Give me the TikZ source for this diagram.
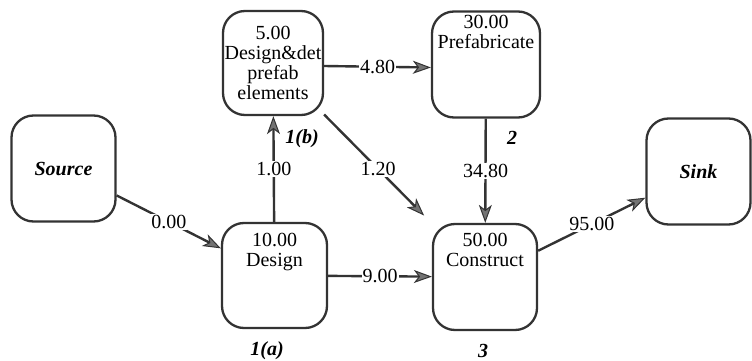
\documentclass[tikz,border=0pt]{standalone}
\usepackage{fontspec}
\setmainfont{Liberation Serif}
\usetikzlibrary{arrows.meta}

\tikzset{
  task/.style = {draw=black!80, line width=2.3pt, rounded corners=22pt,
                 minimum width=104pt, minimum height=106pt, inner sep=0pt},
  txt/.style  = {anchor=north, align=center, inner sep=0pt,
                 font=\fontsize{20}{20}\selectfont},
  tag/.style  = {inner sep=0pt, font=\fontsize{20}{20}\selectfont\bfseries\itshape},
  lnk/.style  = {draw=black!80, line width=2.4pt,
                 -{Stealth[length=18pt, width=13pt, inset=5pt, line width=1pt, fill=black!55]}},
  val/.style  = {fill=white, inner sep=1pt, font=\fontsize{20}{20}\selectfont},
}

\begin{document}
\begin{tikzpicture}[x=1pt, y=-1pt]
  \useasboundingbox (0,0) rectangle (752,361);

  % activities
  \node[task] (source) at (63.5,168.5) {};
  \node[task, minimum width=100pt, minimum height=104pt] (detail) at (273,63) {};
  \node[task, minimum width=108pt] (prefab) at (486,64.5) {};
  \node[task] (sink) at (698.5,171.5) {};
  \node[task, minimum width=105pt, minimum height=105pt] (design) at (274.5,275.5) {};
  \node[task] (construct) at (485,277) {};

  \node[txt] (detail-t) at ([yshift=-16pt]detail.north) {5.00\\Design\&det\\prefab\\elements};
  \node[txt] (prefab-t) at ([yshift=-5pt]prefab.north) {30.00\\Prefabricate};
  \node[txt] (design-t) at ([yshift=-11pt]design.north) {10.00\\Design};
  \node[txt] (construct-t) at ([yshift=-10pt]construct.north) {50.00\\Construct};

  \node[tag] (source-l) at (source) {Source};
  \node[tag] (sink-l) at (sink) {Sink};
  \node[tag] (detail-n) at (302,139) {1(b)};
  \node[tag] (prefab-n) at (512,138) {2};
  \node[tag] (design-n) at (267,351) {1(a)};
  \node[tag] (construct-n) at (483,351) {3};

  % links
  \draw[lnk] (source) -- node[val] {0.00} (design);
  \draw[lnk] (design) -- node[val] {1.00} (detail);
  \draw[lnk] ([yshift=-3pt]detail.east) -- node[val] {4.80} ([yshift=-3pt]prefab.west);
  \draw[lnk, shorten >=11pt] (detail) -- node[val] {1.20} (construct);
  \draw[lnk] (prefab) -- node[val] {34.80} (construct);
  \draw[lnk] (design) -- node[val] {9.00} (construct);
  \draw[lnk] (construct) -- node[val] {95.00} (sink);
\end{tikzpicture}
\end{document}
